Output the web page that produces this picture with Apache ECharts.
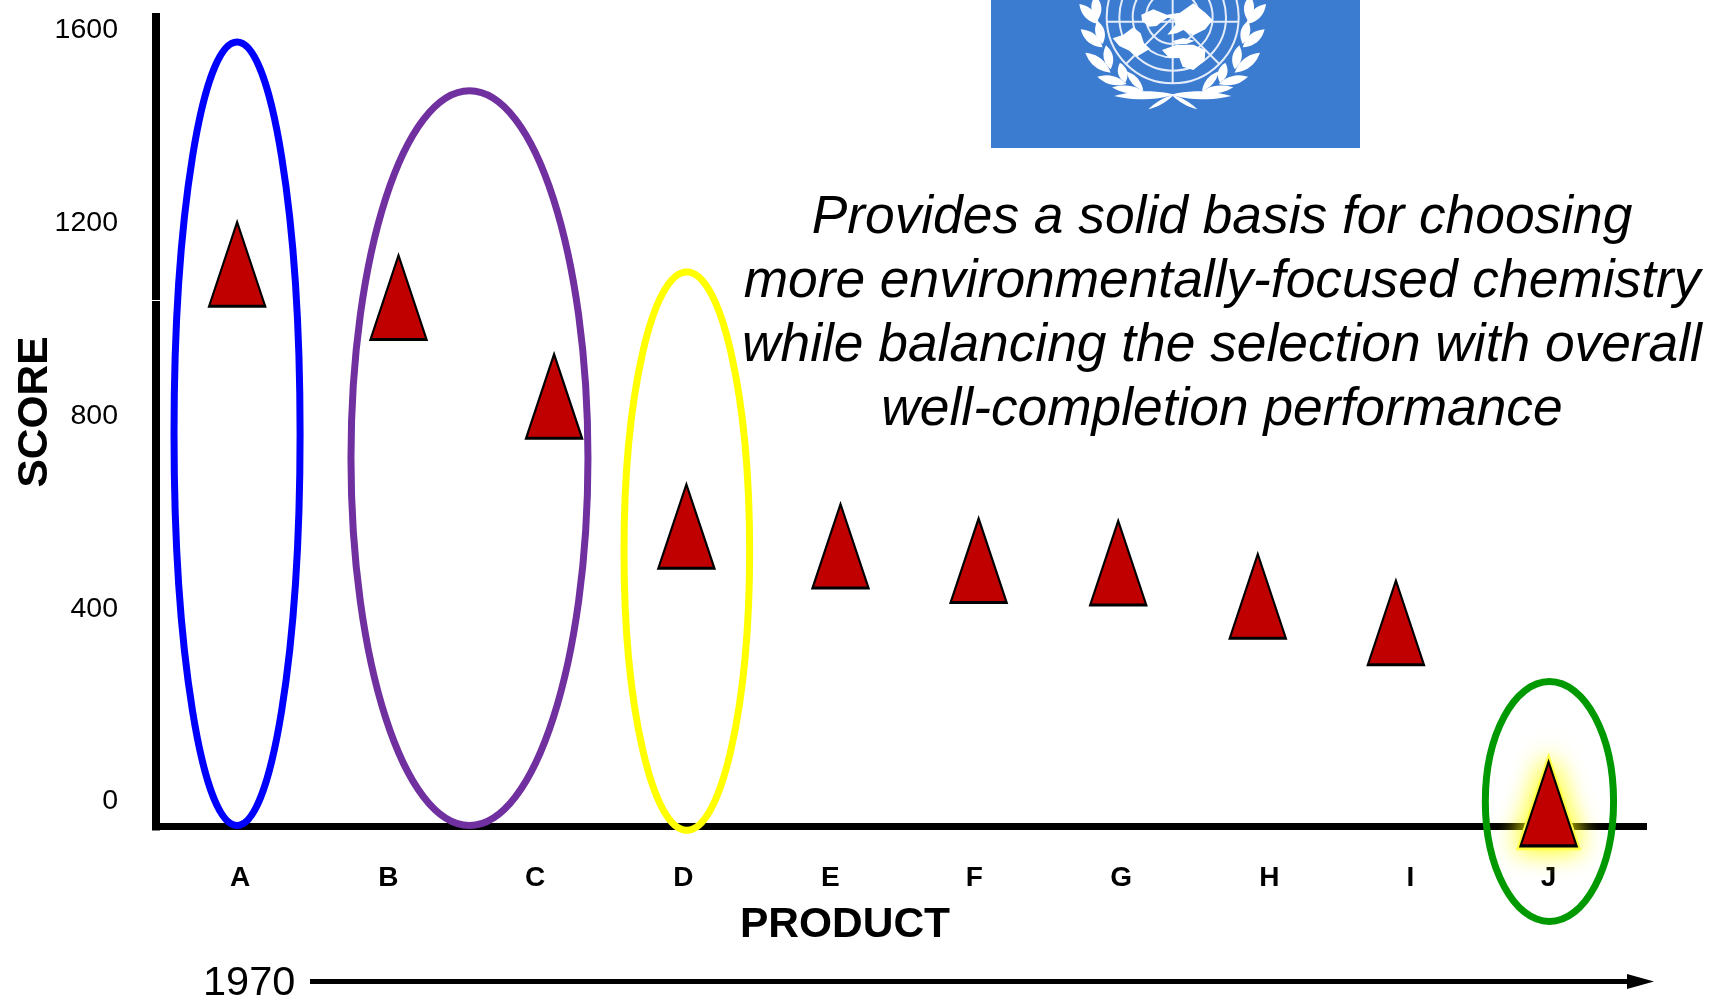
<!DOCTYPE html>
<html>
<head>
<meta charset="utf-8">
<title>Product score</title>
<script src="https://cdn.jsdelivr.net/npm/echarts@6/dist/echarts.min.js"></script>
<style>
  html, body { margin: 0; padding: 0; background: #fff; }
  #chart { width: 1710px; height: 996px; }
</style>
</head>
<body>
<div id="chart"></div>
<script>
var products = ["A", "B", "C", "D", "E", "F", "G", "H", "I", "J"];
var scores = [1110, 1041, 836, 566, 525, 495, 490, 421, 366, -10];
var markerPos = [0.98, 2.09, 3.16, 4.07, 5.13, 6.08, 7.04, 8.0, 8.95, 10];
var labelPos = [1, 2.02, 3.03, 4.05, 5.06, 6.05, 7.06, 8.08, 9.05, 10];
var scoreTicks = [0, 400, 800, 1200, 1600];

// groups ringed on the chart: x from, x to, score low, score high
var ringBlue = [0.546, 1.413, -55, 1571];
var ringPurple = [1.763, 3.393, -55, 1470];
var ringYellow = [3.641, 4.505, -65, 1094];
var ringGreen = [9.565, 10.447, -254, 244];

var noteLines = [
  "Provides a solid basis for choosing",
  "more environmentally-focused chemistry",
  "while balancing the selection with overall",
  "well-completion performance"
];

var fontName = "Liberation Sans";
var triangleRed = "#C00000";

function renderRing(params, api) {
  var low = api.coord([api.value(0), api.value(2)]);
  var high = api.coord([api.value(1), api.value(3)]);
  return {
    type: "ellipse",
    shape: {
      cx: (low[0] + high[0]) / 2,
      cy: (low[1] + high[1]) / 2,
      rx: (high[0] - low[0]) / 2,
      ry: (low[1] - high[1]) / 2
    },
    style: { fill: "none", stroke: api.visual("color"), lineWidth: 7 }
  };
}

function ringSeries(ring, color) {
  return {
    type: "custom",
    renderItem: renderRing,
    coordinateSystem: "cartesian2d",
    clip: false,
    silent: true,
    z: 4,
    itemStyle: { color: color },
    encode: { x: [0, 1], y: [2, 3] },
    data: [ring]
  };
}

// UN flag drawing, coordinates relative to the flag crop (3x units)
function flagX(x) { return 980 + x / 3; }
function flagY(y) { return y / 3; }

function leafPoints(b, t, w) {
  var dx = t[0] - b[0], dy = t[1] - b[1];
  var len = Math.sqrt(dx * dx + dy * dy);
  var nx = -dy / len * w, ny = dx / len * w;
  var pts = [];
  for (var i = 0; i <= 10; i++) {
    var s = i / 10, k = 4 * s * (1 - s);
    pts.push([flagX(b[0] + dx * s + nx * k), flagY(b[1] + dy * s + ny * k)]);
  }
  for (var j = 9; j > 0; j--) {
    var s2 = j / 10, k2 = 4 * s2 * (1 - s2);
    pts.push([flagX(b[0] + dx * s2 - nx * k2), flagY(b[1] + dy * s2 - ny * k2)]);
  }
  return pts;
}

var leaves = [
  [[356, 72], [298, 12], 15], [[352, 62], [346, -14], 15],
  [[368, 142], [302, 88], 15], [[368, 132], [352, 62], 14],
  [[392, 218], [316, 158], 15], [[392, 208], [378, 136], 14],
  [[440, 252], [352, 230], 13], [[436, 248], [420, 188], 14],
  [[492, 274], [396, 262], 11], [[490, 272], [440, 214], 11],
  [[584, 284], [402, 288], 12]
];
var stems = [[[582, 284], [505, 328], 6], [[574, 284], [652, 328], 6]];

var continents = [
  [[484, 44], [520, 28], [560, 44], [600, 38], [640, 10], [676, 38], [698, 60], [676, 88], [640, 106], [610, 90], [590, 100], [562, 104], [586, 74], [582, 54], [562, 54], [544, 66], [530, 78], [506, 80], [486, 62]],
  [[398, 115], [430, 104], [460, 82], [482, 100], [492, 130], [510, 146], [470, 170], [448, 152], [418, 138]],
  [[546, 150], [590, 134], [640, 134], [676, 150], [674, 182], [640, 210], [608, 200], [598, 174], [568, 174]],
  [[576, 124], [610, 114], [644, 122], [620, 132], [590, 132]]
];

function flagGraphics() {
  var items = [{
    type: "rect",
    shape: { x: 991, y: 0, width: 369, height: 148 },
    style: { fill: "#3B7BD0" }
  }];
  var ringStyle = { fill: "none", stroke: "#E4EDF9", lineWidth: 2 };
  [198, 160, 120, 80].forEach(function (r) {
    items.push({
      type: "circle",
      shape: { cx: flagX(578), cy: flagY(52), r: r / 3 },
      style: ringStyle
    });
  });
  [[[578, 0], [578, 250]], [[380, 65], [776, 65]], [[438, 192], [578, 52]], [[718, 192], [578, 52]]].forEach(function (l) {
    items.push({
      type: "line",
      shape: { x1: flagX(l[0][0]), y1: flagY(l[0][1]), x2: flagX(l[1][0]), y2: flagY(l[1][1]) },
      style: { stroke: "#E4EDF9", lineWidth: 2 }
    });
  });
  continents.forEach(function (pts) {
    items.push({
      type: "polygon",
      shape: { points: pts.map(function (p) { return [flagX(p[0]), flagY(p[1])]; }) },
      style: { fill: "#fff" }
    });
  });
  leaves.forEach(function (l) {
    var tip = [1156 - l[1][0], l[1][1]], base = [1156 - l[0][0], l[0][1]];
    items.push({ type: "polygon", shape: { points: leafPoints(l[0], l[1], l[2]) }, style: { fill: "#fff" } });
    items.push({ type: "polygon", shape: { points: leafPoints(base, tip, l[2]) }, style: { fill: "#fff" } });
  });
  stems.forEach(function (l) {
    items.push({ type: "polygon", shape: { points: leafPoints(l[0], l[1], l[2]) }, style: { fill: "#fff" } });
  });
  return items;
}

var textGraphics = [
  {
    type: "text", x: 35, y: 412, rotation: Math.PI / 2,
    style: { text: "SCORE", font: "bold 42.5px " + fontName, fill: "#000", align: "center", verticalAlign: "middle" }
  },
  {
    type: "text", x: 845, y: 925,
    style: { text: "PRODUCT", font: "bold 42.5px " + fontName, fill: "#000", align: "center", verticalAlign: "middle" }
  },
  {
    type: "text", x: 203, y: 984,
    style: { text: "1970", font: "41.5px " + fontName, fill: "#000", align: "left", verticalAlign: "middle" }
  },
  {
    type: "line",
    shape: { x1: 310, y1: 981.5, x2: 1630, y2: 981.5 },
    style: { stroke: "#000", lineWidth: 5 }
  },
  {
    type: "polygon",
    shape: { points: [[1627, 974], [1654, 981.5], [1627, 989]] },
    style: { fill: "#000" }
  },
  // small seam in the vertical axis
  { type: "rect", z: 10, shape: { x: 152, y: 300, width: 8, height: 1 }, style: { fill: "#fff" } }
];

noteLines.forEach(function (line, i) {
  textGraphics.push({
    type: "text", x: 1222, y: 218.5 + i * 64,
    style: { text: line, font: "italic 53.3px " + fontName, fill: "#000", align: "center", verticalAlign: "middle" }
  });
});

var lastIndex = products.length - 1;

var option = {
  animation: false,
  backgroundColor: "#fff",
  grid: { left: 156, right: 63, top: 17, bottom: 169.5 },
  xAxis: {
    type: "value",
    min: 0.422,
    max: 10.677,
    splitLine: { show: false },
    axisTick: { show: false },
    axisLine: { onZero: false, lineStyle: { color: "#000", width: 7, cap: "butt" } },
    axisLabel: {
      customValues: labelPos,
      margin: 38,
      fontFamily: fontName,
      fontWeight: "bold",
      fontSize: 28,
      color: "#000",
      formatter: function (value) {
        return products[labelPos.indexOf(value)];
      }
    }
  },
  yAxis: {
    type: "value",
    min: -57,
    max: 1623,
    splitLine: { show: false },
    axisTick: { show: false },
    axisLine: { show: true, onZero: false, lineStyle: { color: "#000", width: 8, cap: "square" } },
    axisLabel: {
      customValues: scoreTicks,
      margin: 38,
      formatter: function (value) {
        return "{tick|" + value + "}";
      },
      rich: {
        tick: {
          fontFamily: fontName,
          fontSize: 28.5,
          color: "#000",
          padding: [5, 0, 0, 0]
        }
      }
    }
  },
  graphic: { elements: flagGraphics().concat(textGraphics) },
  series: [
    ringSeries(ringBlue, "#0000FF"),
    ringSeries(ringPurple, "#7030A0"),
    ringSeries(ringYellow, "#FFFF00"),
    ringSeries(ringGreen, "#009900"),
    {
      // yellow glow behind the last product
      type: "scatter",
      symbol: "triangle",
      symbolSize: [56, 84],
      z: 3,
      silent: true,
      itemStyle: {
        opacity: 1,
        color: "#FFFF00",
        borderColor: "#FFFF44",
        borderWidth: 7,
        shadowColor: "#FFFF00",
        shadowBlur: 26
      },
      data: [[markerPos[lastIndex], scores[lastIndex]]]
    },
    {
      type: "scatter",
      symbol: "triangle",
      symbolSize: [56, 84],
      z: 5,
      itemStyle: { opacity: 1, color: triangleRed, borderColor: "#000", borderWidth: 2.5 },
      data: scores.map(function (score, i) {
        return [markerPos[i], score];
      })
    }
  ]
};

var myChart = echarts.init(document.getElementById("chart"));
myChart.setOption(option);
</script>
</body>
</html>
